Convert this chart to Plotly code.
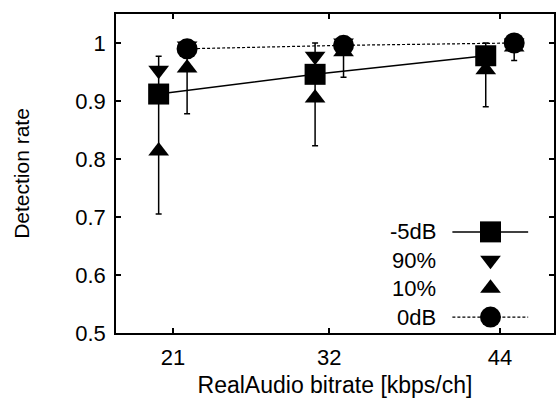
import plotly.graph_objects as go

# ---- data ----
tick_vals = [21, 32, 44]
tick_text = ["21", "32", "44"]
x_m5 = [20, 31, 43]
x_0 = [22, 33, 45]

m5_mean = [0.912, 0.946, 0.978]
m5_max = [0.977, 1.000, 1.000]
m5_min = [0.705, 0.823, 0.890]
m5_p90 = [0.953, 0.977, 0.987]
m5_p10 = [0.814, 0.905, 0.954]

d0_mean = [0.990, 0.996, 1.000]
d0_max = [1.000, 1.000, 1.000]
d0_min = [0.878, 0.941, 0.970]
d0_p90 = [0.995, 1.000, 1.000]
d0_p10 = [0.957, 0.985, 0.993]

legend_names = ["-5dB", "90%", "10%", "0dB"]

FONT = "Liberation Sans, Arial, Helvetica, sans-serif"
FS = 22
BLACK = "#000000"
MS = 21
TS = 18

fig = go.Figure()

def err(vals, hi, lo):
    return dict(type="data", symmetric=False,
                array=[h - v for v, h in zip(vals, hi)],
                arrayminus=[v - l for v, l in zip(vals, lo)],
                color=BLACK, thickness=1.5, width=3)

fig.add_trace(go.Scatter(x=x_m5, y=m5_mean, mode="lines+markers",
                         line=dict(color=BLACK, width=1.5),
                         marker=dict(symbol="square", size=MS, color=BLACK),
                         error_y=err(m5_mean, m5_max, m5_min), showlegend=False))
fig.add_trace(go.Scatter(x=x_m5 + x_0, y=m5_p90 + d0_p90, mode="markers",
                         marker=dict(symbol="triangle-down", size=TS, color=BLACK),
                         showlegend=False))
fig.add_trace(go.Scatter(x=x_m5 + x_0, y=m5_p10 + d0_p10, mode="markers",
                         marker=dict(symbol="triangle-up", size=TS, color=BLACK),
                         showlegend=False))
fig.add_trace(go.Scatter(x=x_0, y=d0_mean, mode="lines+markers",
                         line=dict(color=BLACK, width=1.2, dash="3px,2px"),
                         marker=dict(symbol="circle", size=MS, color=BLACK),
                         error_y=err(d0_mean, d0_max, d0_min), showlegend=False))

# ---- gnuplot-style key (text left, sample right) on an overlay axis ----
rows = [0.317, 0.228, 0.140, 0.050]
sx0, sx1, sxm, tx = 0.768, 0.941, 0.855, 0.735
styles = [
    dict(line=dict(color=BLACK, width=1.5), symbol="square", size=MS, line_on=True),
    dict(line=None, symbol="triangle-down", size=TS, line_on=False),
    dict(line=None, symbol="triangle-up", size=TS, line_on=False),
    dict(line=dict(color=BLACK, width=1.2, dash="3px,2px"), symbol="circle", size=MS, line_on=True),
]
for name, ry, st in zip(legend_names, rows, styles):
    if st["line_on"]:
        fig.add_trace(go.Scatter(x=[sx0, sx1], y=[ry, ry], mode="lines", line=st["line"],
                                 xaxis="x2", yaxis="y2", showlegend=False, hoverinfo="skip"))
    fig.add_trace(go.Scatter(x=[sxm], y=[ry], mode="markers",
                             marker=dict(symbol=st["symbol"], size=st["size"], color=BLACK),
                             xaxis="x2", yaxis="y2", showlegend=False, hoverinfo="skip"))
    fig.add_annotation(x=tx, y=ry, xref="paper", yref="paper", text=name, showarrow=False,
                       xanchor="right", yanchor="middle",
                       font=dict(family=FONT, size=FS, color=BLACK))

axis_common = dict(showgrid=False, zeroline=False, showline=True, linecolor=BLACK, linewidth=1.5,
                   mirror="ticks", ticks="inside", ticklen=5, tickwidth=1.5, tickcolor=BLACK,
                   tickfont=dict(family=FONT, size=FS, color=BLACK))

fig.update_layout(
    width=559, height=403,
    margin=dict(l=116, r=3, t=14, b=70),
    plot_bgcolor="white", paper_bgcolor="white",
    font=dict(family=FONT, size=FS, color=BLACK),
    xaxis=dict(range=[17, 47.8], tickvals=tick_vals, ticktext=tick_text,
               title=dict(text="RealAudio bitrate [kbps/ch]", font=dict(family=FONT, size=23), standoff=8),
               ticklabelstandoff=4, **axis_common),
    yaxis=dict(range=[0.5, 1.05], tickvals=[0.5, 0.6, 0.7, 0.8, 0.9, 1.0],
               ticktext=["0.5", "0.6", "0.7", "0.8", "0.9", "1"],
               title=dict(text="Detection rate", font=dict(family=FONT, size=21), standoff=40),
               ticklabelstandoff=4, **axis_common),
    xaxis2=dict(range=[0, 1], overlaying="x", visible=False, fixedrange=True),
    yaxis2=dict(range=[0, 1], overlaying="y", visible=False, fixedrange=True),
    showlegend=False,
)

fig.write_html("out.html")
